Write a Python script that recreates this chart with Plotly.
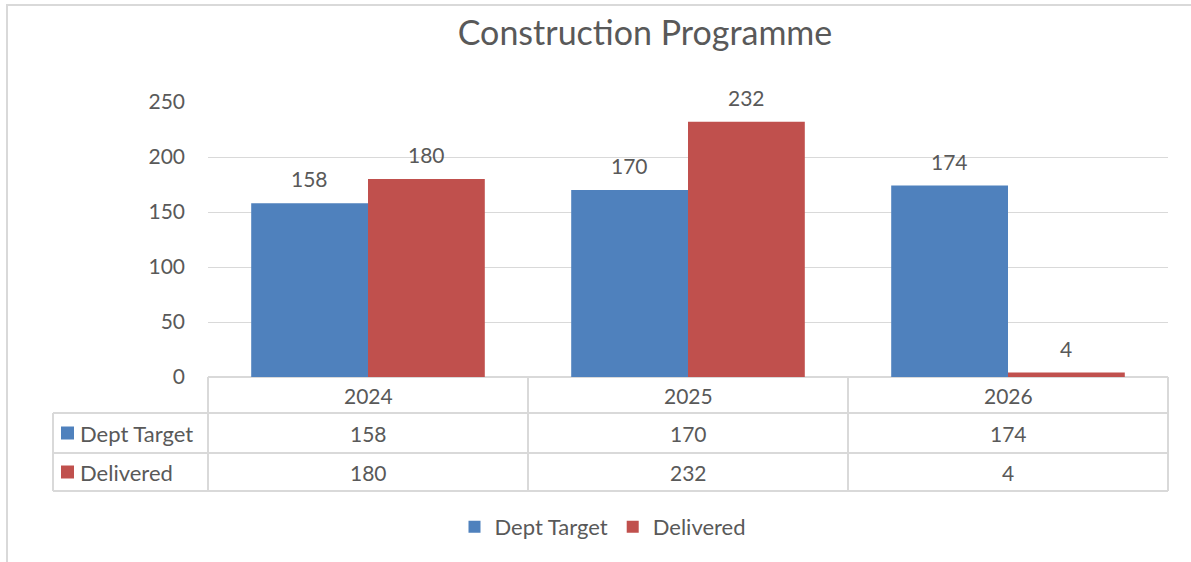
import plotly.graph_objects as go

years = ["2024", "2025", "2026"]
series_names = ["Dept Target", "Delivered"]
dept_target = [158, 170, 174]
delivered = [180, 232, 4]
colors = ["#4F81BD", "#C0504D"]
title_text = "Construction Programme"
y_ticks = [0, 50, 100, 150, 200, 250]

W, H = 1191, 562
L, R_EDGE = 208, 1168          # plot area pixels (x)
TOP, BOT = 102, 377            # plot area pixels (y)
PW, PH = R_EDGE - L, BOT - TOP
FONT = "Lato"
TXT = "#595959"
GRID = "#D9D9D9"
NUM_SIZE = 21

def px(p):
    return (p - L) / PW

def py(p):
    return (BOT - p) / PH

values = [dept_target, delivered]

fig = go.Figure()
for name, vals, col in zip(series_names, values, colors):
    fig.add_trace(go.Bar(x=years, y=vals, name=name, marker_color=col,
                         marker_line_width=0))

annotations = []
# data labels (category index used for annotation position)
half = PW / len(years) * (1 - 0.27) / 4
for si, vals in enumerate(values):
    shift = -half if si == 0 else half
    for ci, v in enumerate(vals):
        annotations.append(dict(x=ci, y=v, xref="x", yref="y", text=str(v),
                                showarrow=False, xshift=shift, yshift=10,
                                yanchor="bottom",
                                font=dict(family=FONT, size=NUM_SIZE, color=TXT)))

# table
rows_y = [377, 413, 453, 491]
shapes = []
line = dict(color=GRID, width=2)
for yy in rows_y[1:]:
    shapes.append(dict(type="line", xref="paper", yref="paper",
                       x0=px(53), x1=1, y0=py(yy), y1=py(yy), line=line))
shapes.append(dict(type="line", xref="paper", yref="paper", x0=px(53), x1=px(53),
                   y0=py(rows_y[1]), y1=py(rows_y[3]), line=line))
n = len(years)
for i in range(n + 1):
    shapes.append(dict(type="line", xref="paper", yref="paper", x0=i / n, x1=i / n,
                       y0=py(rows_y[0]), y1=py(rows_y[3]), line=line))

centers = [(rows_y[i] + rows_y[i + 1]) / 2 for i in range(3)]
for ci, yr in enumerate(years):
    annotations.append(dict(x=ci, y=py(centers[0]), xref="x", yref="paper",
                            text=yr, showarrow=False, yanchor="middle",
                            font=dict(family=FONT, size=NUM_SIZE, color=TXT)))
for si, (name, vals, col) in enumerate(zip(series_names, values, colors)):
    cy = centers[si + 1]
    shapes.append(dict(type="rect", xref="paper", yref="paper",
                       x0=px(61), x1=px(74), y0=py(cy - 6.5), y1=py(cy + 6.5),
                       fillcolor=col, line=dict(width=0)))
    annotations.append(dict(x=px(78), y=py(cy), xref="paper", yref="paper",
                            text=name, showarrow=False, xanchor="left",
                            yanchor="middle",
                            font=dict(family=FONT, size=22, color=TXT)))
    for ci, v in enumerate(vals):
        annotations.append(dict(x=ci, y=py(cy), xref="x", yref="paper",
                                text=str(v), showarrow=False, yanchor="middle",
                                font=dict(family=FONT, size=NUM_SIZE, color=TXT)))

# outer chart border (left and top)
shapes.append(dict(type="line", xref="paper", yref="paper", x0=px(7), x1=px(7),
                   y0=py(4), y1=py(H + 5), line=line))
shapes.append(dict(type="line", xref="paper", yref="paper", x0=px(6), x1=px(W + 5),
                   y0=py(5), y1=py(5), line=line))

fig.update_layout(
    width=W, height=H,
    margin=dict(l=L, r=W - R_EDGE, t=TOP, b=H - BOT, pad=0),
    paper_bgcolor="white", plot_bgcolor="white",
    barmode="group", bargap=0.27, bargroupgap=0,
    title=dict(text=title_text, x=(456 + 834) / 2 / W, xanchor="center",
               y=1 - 33 / H, yanchor="middle",
               font=dict(family=FONT, size=34, color=TXT)),
    xaxis=dict(type="category", showticklabels=False, showgrid=False,
               showline=False, zeroline=False, ticks=""),
    yaxis=dict(range=[0, 250], tickvals=y_ticks, showgrid=True, gridcolor=GRID,
               gridwidth=1, zeroline=True, zerolinecolor=GRID, zerolinewidth=2,
               showline=False, ticks="", ticklabelstandoff=22,
               tickfont=dict(family=FONT, size=NUM_SIZE, color=TXT)),
    showlegend=True,
    legend=dict(orientation="h", x=px(603), xanchor="center", y=py(527),
                yanchor="middle", font=dict(family=FONT, size=22, color=TXT),
                itemsizing="constant", bgcolor="rgba(0,0,0,0)"),
    shapes=shapes, annotations=annotations,
)

fig.write_html("out.html", config={"displayModeBar": False},
               post_script="document.body.style.margin='0';")
